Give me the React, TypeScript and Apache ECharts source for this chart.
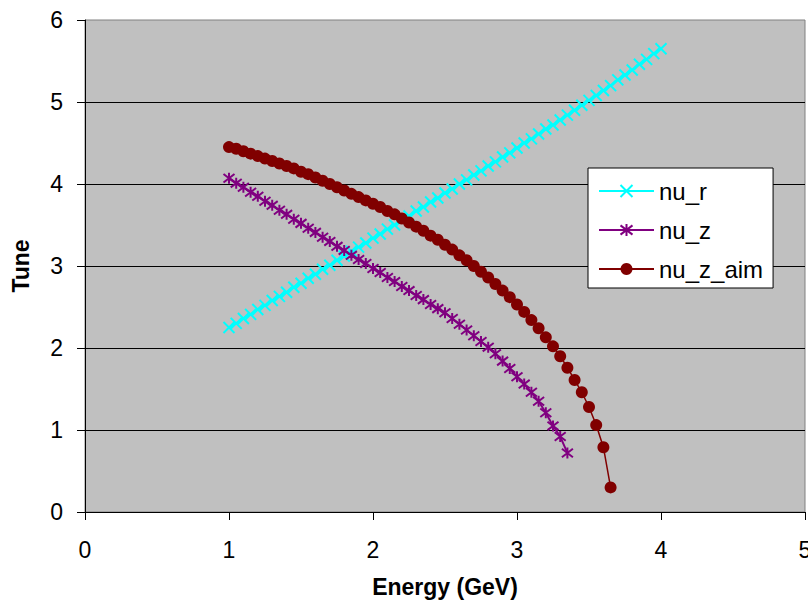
import React, { useEffect, useRef } from "react";
import * as echarts from "echarts";

const energyR = [
  1.0, 1.05, 1.1, 1.15, 1.2, 1.25, 1.3, 1.35, 1.4, 1.45, 1.5, 1.55, 1.6, 1.65, 1.7, 1.75, 1.8, 1.85, 1.9, 1.95,
  2.0, 2.05, 2.1, 2.15, 2.2, 2.25, 2.3, 2.35, 2.4, 2.45, 2.5, 2.55, 2.6, 2.65, 2.7, 2.75, 2.8, 2.85, 2.9, 2.95,
  3.0, 3.05, 3.1, 3.15, 3.2, 3.25, 3.3, 3.35, 3.4, 3.45, 3.5, 3.55, 3.6, 3.65, 3.7, 3.75, 3.8, 3.85, 3.9, 3.95, 4.0,
];
const nuR = [
  2.25, 2.3, 2.36, 2.41, 2.47, 2.52, 2.58, 2.63, 2.68, 2.74, 2.79, 2.85, 2.9, 2.96, 3.01, 3.07, 3.12, 3.18, 3.23, 3.28,
  3.34, 3.39, 3.45, 3.5, 3.56, 3.61, 3.67, 3.72, 3.78, 3.83, 3.89, 3.94, 4.0, 4.05, 4.11, 4.16, 4.22, 4.27, 4.33, 4.38,
  4.44, 4.5, 4.55, 4.61, 4.67, 4.72, 4.78, 4.84, 4.9, 4.96, 5.02, 5.08, 5.14, 5.2, 5.27, 5.33, 5.39, 5.46, 5.52, 5.59, 5.65,
];

const energyZ = [
  1.0, 1.05, 1.1, 1.15, 1.2, 1.25, 1.3, 1.35, 1.4, 1.45, 1.5, 1.55, 1.6, 1.65, 1.7, 1.75, 1.8, 1.85, 1.9, 1.95,
  2.0, 2.05, 2.1, 2.15, 2.2, 2.25, 2.3, 2.35, 2.4, 2.45, 2.5, 2.55, 2.6, 2.65, 2.7, 2.75, 2.8, 2.85, 2.9, 2.95,
  3.0, 3.05, 3.1, 3.15, 3.2, 3.25, 3.3, 3.35,
];
const nuZ = [
  4.07, 4.01, 3.96, 3.9, 3.85, 3.79, 3.74, 3.68, 3.63, 3.57, 3.52, 3.46, 3.41, 3.35, 3.3, 3.24, 3.19, 3.13, 3.08, 3.03,
  2.97, 2.92, 2.86, 2.81, 2.75, 2.7, 2.64, 2.59, 2.53, 2.48, 2.43, 2.36, 2.29, 2.22, 2.15, 2.08, 2.01, 1.93, 1.84, 1.75,
  1.65, 1.56, 1.46, 1.35, 1.21, 1.05, 0.92, 0.72,
];

const energyAim = [
  1.0, 1.05, 1.1, 1.15, 1.2, 1.25, 1.3, 1.35, 1.4, 1.45, 1.5, 1.55, 1.6, 1.65, 1.7, 1.75, 1.8, 1.85, 1.9, 1.95,
  2.0, 2.05, 2.1, 2.15, 2.2, 2.25, 2.3, 2.35, 2.4, 2.45, 2.5, 2.55, 2.6, 2.65, 2.7, 2.75, 2.8, 2.85, 2.9, 2.95,
  3.0, 3.05, 3.1, 3.15, 3.2, 3.25, 3.3, 3.35, 3.4, 3.45, 3.5, 3.55, 3.6, 3.65,
];
const nuZAim = [
  4.45, 4.43, 4.4, 4.37, 4.34, 4.31, 4.28, 4.25, 4.22, 4.19, 4.15, 4.12, 4.08, 4.04, 4.0, 3.96, 3.92, 3.88, 3.84, 3.8,
  3.76, 3.72, 3.67, 3.63, 3.58, 3.53, 3.48, 3.43, 3.37, 3.32, 3.26, 3.2, 3.13, 3.07, 3.0, 2.93, 2.86, 2.78, 2.7, 2.62,
  2.53, 2.44, 2.34, 2.24, 2.13, 2.02, 1.9, 1.76, 1.61, 1.46, 1.28, 1.06, 0.79, 0.3,
];

const xTicks = [0, 1, 2, 3, 4, 5];
const yTicks = [0, 1, 2, 3, 4, 5, 6];

const FONT = "'Liberation Sans', Arial, sans-serif";
const X_MARK = "path://M0,0L10,10M10,0L0,10";
const STAR_MARK = "path://M0,0L10,10M10,0L0,10M5,-1.5L5,11.5";

function pairs(xs: number[], ys: number[]) {
  return xs.map((x, i) => [x, ys[i]]);
}

export default function App() {
  const ref = useRef<HTMLDivElement>(null);
  useEffect(() => {
    if (!ref.current) return;
    const chart = echarts.init(ref.current, undefined, { renderer: "svg" });
    chart.setOption({
      animation: false,
      backgroundColor: "#ffffff",
      grid: {
        left: 85,
        top: 20,
        right: 3,
        bottom: 88,
        show: true,
        containLabel: false,
        outerBoundsMode: "none",
        backgroundColor: "#C0C0C0",
        borderColor: "#808080",
        borderWidth: 1,
      },
      legend: {
        orient: "vertical",
        left: 588,
        top: 168,
        data: ["nu_r", "nu_z", "nu_z_aim"],
        backgroundColor: "#ffffff",
        borderColor: "#000000",
        borderWidth: 1,
        borderRadius: 0,
        padding: [11, 10, 7, 10],
        itemWidth: 55,
        itemHeight: 15,
        itemGap: 15,
        textStyle: { fontFamily: FONT, fontSize: 24, color: "#000000" },
      },
      xAxis: {
        type: "value",
        min: xTicks[0],
        max: xTicks[xTicks.length - 1],
        interval: 1,
        name: "Energy (GeV)",
        nameLocation: "middle",
        nameGap: 63,
        nameTextStyle: { fontFamily: FONT, fontSize: 23, fontWeight: "bold", color: "#000000" },
        axisLine: { show: true, lineStyle: { color: "#000000", width: 1 } },
        axisTick: { show: true, inside: false, length: 8, lineStyle: { color: "#000000" } },
        axisLabel: { margin: 26, fontFamily: FONT, fontSize: 23, color: "#000000" },
        splitLine: { show: false },
      },
      yAxis: {
        type: "value",
        min: yTicks[0],
        max: yTicks[yTicks.length - 1],
        interval: 1,
        name: "Tune",
        nameLocation: "middle",
        nameGap: 53,
        nameTextStyle: { fontFamily: FONT, fontSize: 23, fontWeight: "bold", color: "#000000" },
        axisLine: { show: true, lineStyle: { color: "#000000", width: 1 } },
        axisTick: { show: true, inside: false, length: 8, lineStyle: { color: "#000000" } },
        axisLabel: { margin: 22, fontFamily: FONT, fontSize: 23, color: "#000000" },
        splitLine: {
          show: true,
          showMinLine: false,
          showMaxLine: false,
          lineStyle: { color: "#000000", width: 1 },
        },
      },
      series: [
        {
          name: "nu_r",
          type: "line",
          data: pairs(energyR, nuR),
          symbol: X_MARK,
          symbolSize: 11,
          itemStyle: { color: "#00FFFF", borderColor: "#00FFFF", borderWidth: 2 },
          lineStyle: { color: "#00FFFF", width: 2 },
        },
        {
          name: "nu_z",
          type: "line",
          data: pairs(energyZ, nuZ),
          symbol: STAR_MARK,
          symbolSize: 11,
          itemStyle: { color: "#800080", borderColor: "#800080", borderWidth: 2 },
          lineStyle: { color: "#800080", width: 2 },
        },
        {
          name: "nu_z_aim",
          type: "line",
          data: pairs(energyAim, nuZAim),
          symbol: "circle",
          symbolSize: 12,
          itemStyle: { color: "#800000", borderWidth: 0 },
          lineStyle: { color: "#800000", width: 1.5 },
        },
      ],
    });
    return () => chart.dispose();
  }, []);
  return (
    <div
      ref={ref}
      style={{ position: "fixed", left: 0, top: 0, width: 808, height: 600 }}
    />
  );
}
